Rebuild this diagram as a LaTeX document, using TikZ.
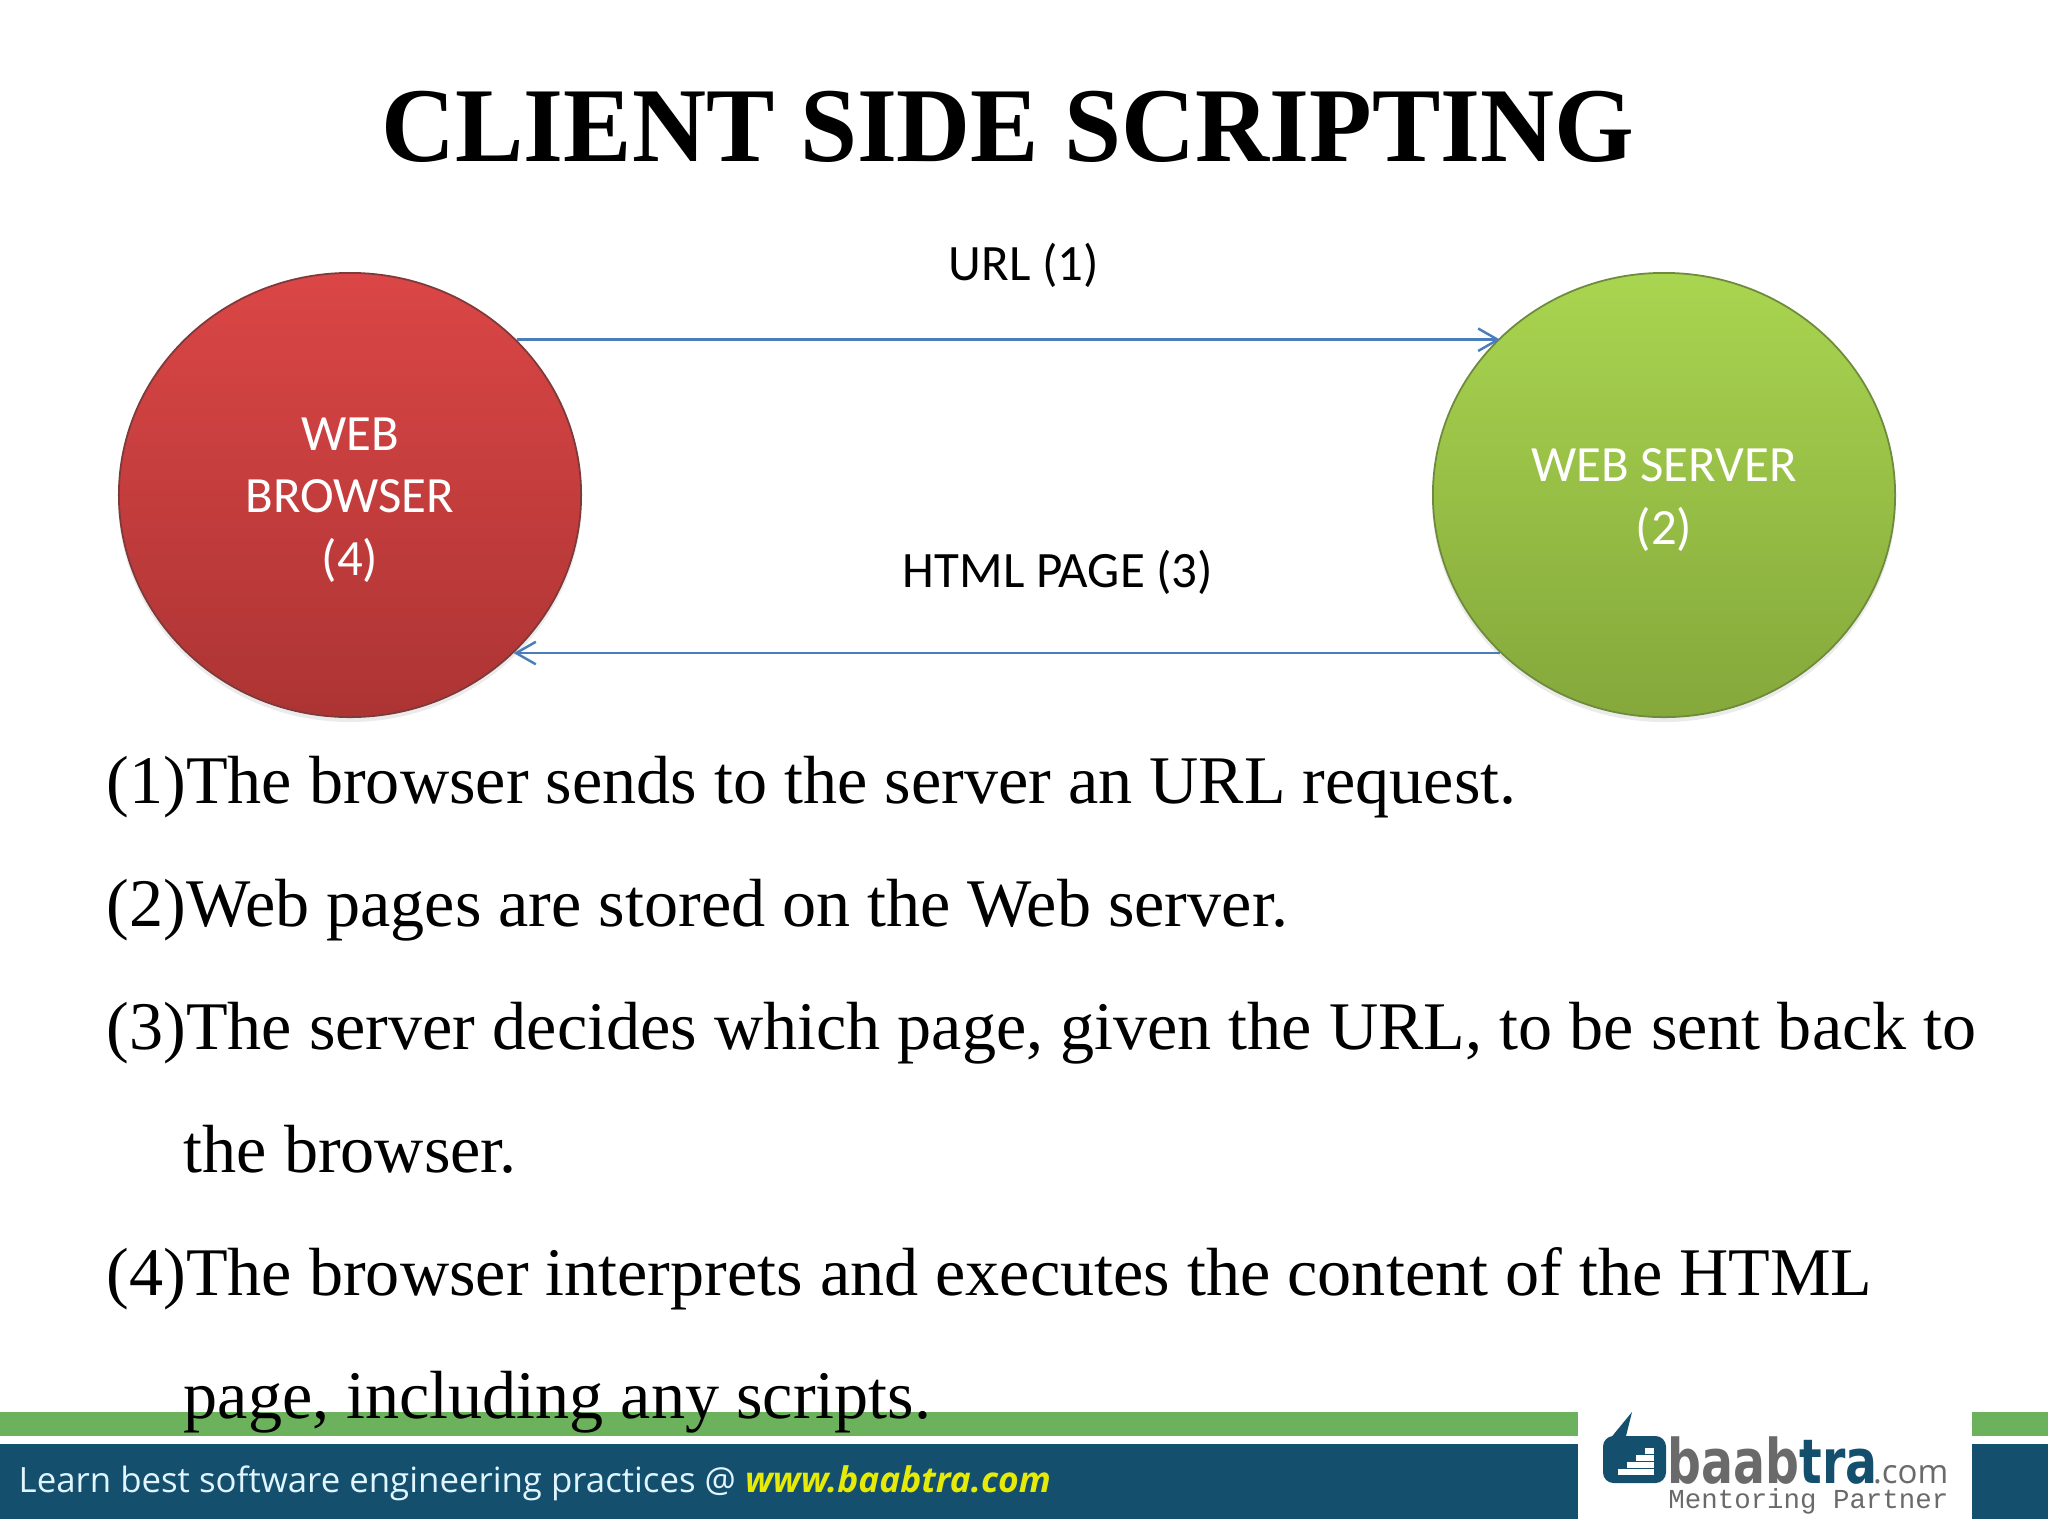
\documentclass[tikz,border=0pt]{standalone}
\usepackage{fontspec}
\setmainfont{Liberation Serif}
\newfontfamily\labelfont{Carlito}
\newfontfamily\footfont{Open Sans}
\newfontfamily\logofont{DejaVu Sans}
\newfontfamily\partnerfont{Liberation Mono}
\usetikzlibrary{arrows.meta,shapes.geometric}
\definecolor{linkblue}{HTML}{4A7EBB}
\definecolor{bandgreen}{HTML}{6CB25C}
\definecolor{bandteal}{HTML}{14506E}
\definecolor{logogray}{HTML}{6A6A6A}
\definecolor{redtop}{HTML}{DB4646}
\definecolor{redbot}{HTML}{AD3434}
\definecolor{redrim}{HTML}{7E3A3A}
\definecolor{greentop}{HTML}{A9D550}
\definecolor{greenbot}{HTML}{85A83B}
\definecolor{greenrim}{HTML}{6E8A3C}
\tikzset{
  disc/.style={ellipse,minimum width=4.62cm,minimum height=4.44cm,inner sep=0pt,line width=.5pt},
  disclabel/.style={inner sep=0pt,align=center,text=white,font=\labelfont\fontsize{14.45}{17.8}\selectfont},
  caption/.style={inner sep=0pt,anchor=base,font=\labelfont\fontsize{14.5}{17.8}\selectfont},
  item/.style={anchor=base west,inner sep=0pt,font=\fontsize{19.38}{24}\selectfont},
}
\begin{document}
\begin{tikzpicture}[x=0.01cm,y=-0.01cm,line join=round,>={Straight Barb[length=5.6pt,width=6.4pt]}]
\useasboundingbox (0,0) rectangle (2048,1536);
% footer
\fill[bandgreen] (0,1412) rectangle (1578,1436);
\fill[bandgreen] (1972,1412) rectangle (2048,1436);
\fill[bandteal] (0,1444) rectangle (1578,1519);
\fill[bandteal] (1972,1444) rectangle (2048,1519);
\node (learn) at (18,1492) [anchor=base west,inner sep=0pt,text=white!88!cyan,font=\footfont\fontsize{9.9}{12}\selectfont] {Learn best software engineering practices @ {\color{yellow!90!green}\bfseries\itshape\fontsize{10.05}{12}\selectfont www.baabtra.com}};
% logo
\fill[bandteal,rounded corners=3pt] (1603,1483) rectangle (1666,1436);
\fill[bandteal] (1609,1440)--(1632,1412)--(1625,1440)--cycle;
\foreach \i in {0,1,2,3}
  \fill[white] (1618+\i*9,1475-\i*7-6) rectangle (1654,1475-\i*7);
\node (baabtra) at (1667,1483) [anchor=base west,inner sep=0pt,xscale=.77,transform shape,text=logogray,font=\logofont\bfseries\fontsize{17.5}{20}\selectfont] {baab{\color{bandteal}tra}};
\node (dotcom) at (1949,1483) [anchor=base east,inner sep=0pt,text=logogray,font=\footfont\fontsize{9.4}{12}\selectfont] {.com};
\node (partner) at (1949,1508) [anchor=base east,inner sep=0pt,text=logogray,font=\partnerfont\fontsize{7.8}{10}\selectfont] {Mentoring Partner};
% title
\node (title) at (1008,161) [anchor=base,inner sep=0pt,xscale=.965,transform shape,font=\bfseries\fontsize{30.2}{36}\selectfont] {CLIENT SIDE SCRIPTING};
% circles
\fill[black,opacity=.08] (350,499) ellipse (232 and 223);
\fill[black,opacity=.08] (1664,499) ellipse (232 and 223);
\node[disc,draw=redrim,top color=redtop,bottom color=redbot] (browser) at (350,495) {};
\node[disc,draw=greenrim,top color=greentop,bottom color=greenbot] (server) at (1664,495) {};
\node[disclabel] (browsertext) at (350,500) {WEB\\BROWSER\\(4)};
\node[disclabel] (servertext) at (1664,500) {WEB SERVER\\(2)};
% arrows
\draw[->,linkblue,line width=.7pt] (browser.43.2)--(browser.43.2 -| server.136.4);
\draw[->,linkblue,line width=.7pt] (browser.-44 -| server.-136.4)--(browser.-44);
\node[caption] (url) at (1024,280) {URL (1)};
\node[caption] (html) at (1058,587) {HTML PAGE (3)};
% list
\node[item] (one) at (106,803) {(1)The browser sends to the server an URL request.};
\node[item] (two) at (106,926) {(2)Web pages are stored on the Web server.};
\node[item] (three) at (106,1049) {(3)The server decides which page, given the URL, to be sent back to};
\node[item] (threeb) at (183,1172) {the browser.};
\node[item] (four) at (106,1295) {(4)The browser interprets and executes the content of the HTML};
\node[item] (fourb) at (183,1418) {page, including any scripts.};
\end{tikzpicture}
\end{document}
